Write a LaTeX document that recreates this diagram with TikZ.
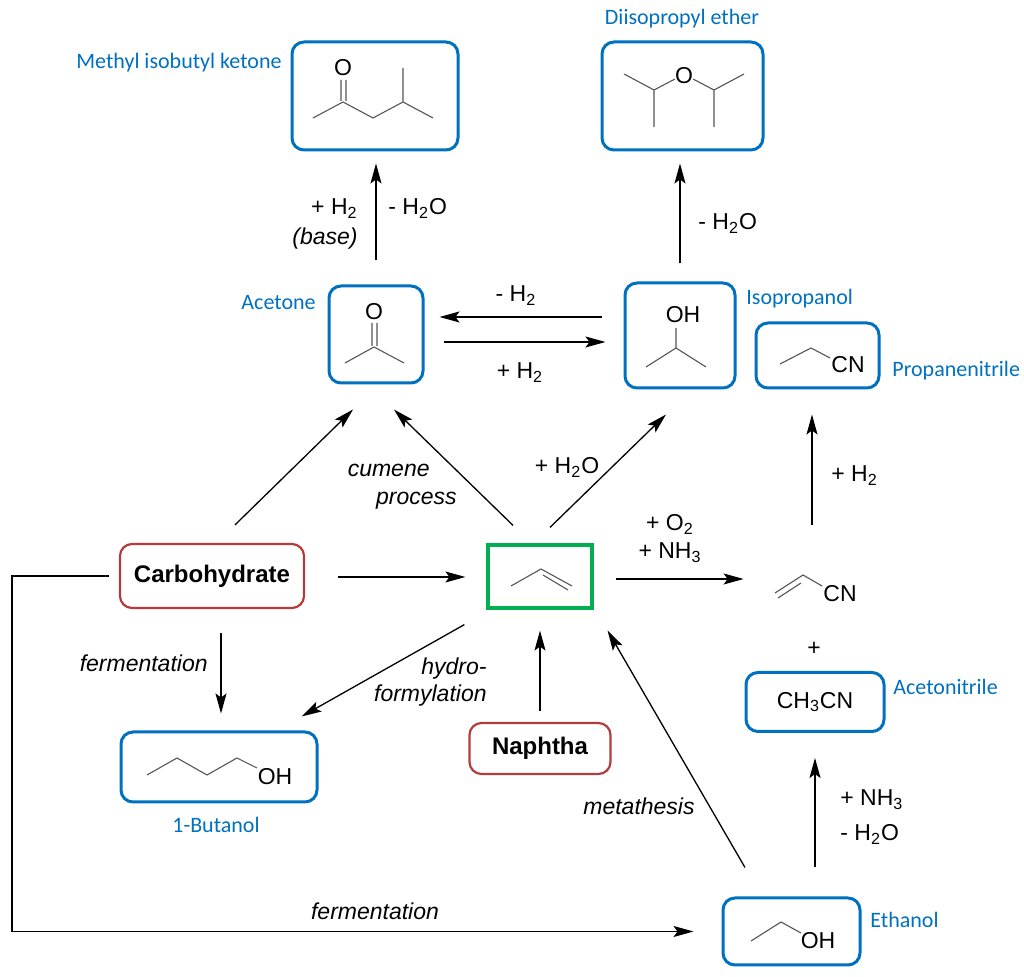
\documentclass[tikz,border=0pt]{standalone}
\usepackage{fontspec}
\setmainfont{Liberation Sans}
\newfontfamily\calibri{Carlito}
\usetikzlibrary{arrows.meta}
\definecolor{molblue}{RGB}{0,112,192}
\definecolor{feedred}{RGB}{178,60,60}
\definecolor{propgreen}{RGB}{0,176,80}
\definecolor{bondgray}{RGB}{85,85,85}
\begin{document}
\begin{tikzpicture}[x=0.5pt,y=-0.5pt,>={Stealth[length=10pt,width=5.5pt,inset=2pt]},
	arr/.style={->,line width=0.65pt},
	bond/.style={bondgray,line width=0.55pt},
	bluebox/.style={draw=molblue,line width=1.5pt,rounded corners=6pt,inner sep=0pt,font=\fontsize{11.5}{13}\selectfont},
	redbox/.style={draw=feedred,line width=1.1pt,rounded corners=6pt,inner sep=0pt,font=\fontsize{12}{14}\selectfont\bfseries},
	greenbox/.style={draw=propgreen,line width=1.6pt,inner sep=0pt},
	txt/.style={inner sep=0pt,font=\fontsize{11.5}{13}\selectfont},
	itxt/.style={inner sep=0pt,font=\fontsize{11.5}{13}\selectfont\itshape},
	cname/.style={inner sep=0pt,text=molblue,font=\fontsize{11}{13}\selectfont\calibri}]
	\useasboundingbox (0,0) rectangle (1024,977);
	% boxes
	\node[bluebox,minimum width=83pt,minimum height=54pt] (mibk) at (375,96) {};
	\node[bluebox,minimum width=80.5pt,minimum height=54pt] (dipe) at (682.5,96) {};
	\node[bluebox,minimum width=47pt,minimum height=48.5pt] (acetone) at (376,334.5) {};
	\node[bluebox,minimum width=55pt,minimum height=52.5pt] (isoprop) at (680,335.5) {};
	\node[bluebox,minimum width=61.5pt,minimum height=32.5pt] (propnitrile) at (817.5,355.5) {};
	\node[redbox,minimum width=92pt,minimum height=32pt] (carbo) at (212,576) {Carbohydrate};
	\node[greenbox,minimum width=52pt,minimum height=31.5pt] (propene) at (540,576.5) {};
	\node[bluebox,minimum width=98pt,minimum height=35pt] (butanol) at (219,767) {};
	\node[redbox,minimum width=70.5pt,minimum height=25.5pt] (naphtha) at (540,748.5) {Naphtha};
	\node[bluebox,minimum width=69pt,minimum height=29.5pt] (acetonitrile) at (815,702) {CH\textsubscript{3}CN};
	\node[bluebox,minimum width=68.5pt,minimum height=33.5pt] (ethanol) at (791.5,931.5) {};
	\node[inner sep=0pt,minimum width=38pt,minimum height=17pt] (acryl) at (812,586) {};
	% names
	\node[cname,anchor=base east] (mibkname) at (282,69) {Methyl isobutyl ketone};
	\node[cname,anchor=base east] (acetonename) at (316,310) {Acetone};
	\node[cname,anchor=base] (dipename) at (682,25) {Diisopropyl ether};
	\node[cname,anchor=base west] (isopropname) at (746,305) {Isopropanol};
	\node[cname,anchor=base west] (propnitrilename) at (892,377) {Propanenitrile};
	\node[cname,anchor=base] (butanolname) at (216,833) {1-Butanol};
	\node[cname,anchor=base west] (acetonitrilename) at (893,695) {Acetonitrile};
	\node[cname,anchor=base west] (ethanolname) at (870,928) {Ethanol};
	% molecules
	\draw[bond] (313,118)--(343,102)--(373,118)--(403,102)--(433,118) (403,102)--(403,68) (341,101)--(341,80) (346,101)--(346,80);
	\node[txt] (mibkO) at (343,68) {O};
	\draw[bond] (345,363)--(374,347)--(404,363) (372,346)--(372,323) (377,346)--(377,323);
	\node[txt] (acetoneO) at (374,312) {O};
	\draw[bond] (624,74)--(654,90)--(654,127) (654,90)--(675,79) (693,79)--(714,90)--(714,127) (714,90)--(744,74);
	\node[txt] (dipeO) at (684,76) {O};
	\draw[bond] (676,328)--(676,348) (646,367)--(676,348)--(706,367);
	\node[txt] (isopropOH) at (683,315) {OH};
	\draw[bond] (780,364)--(811,348)--(830,358);
	\node[txt] (propnitrileCN) at (848,365) {CN};
	\draw[bond] (511,586)--(541,569)--(572,586) (543,575)--(568,590);
	\draw[bond] (775,593)--(803,575)--(822,586) (778,598)--(801,583);
	\node[txt] (acrylCN) at (840,594) {CN};
	\draw[bond] (147,775)--(177,758)--(207,775)--(237,758)--(257,768);
	\node[txt] (butanolOH) at (275,777) {OH};
	\draw[bond] (751,941)--(781,922)--(801,933);
	\node[txt] (ethanolOH) at (818,941) {OH};
	% arrows
	\draw[arr,shorten <=12pt,shorten >=6pt] (acetone.north) -- (acetone.north |- mibk.south);
	\draw[arr,shorten <=9pt,shorten >=6pt] (isoprop.north) -- (isoprop.north |- dipe.south);
	\draw[arr,shorten <=11pt,shorten >=7.5pt] ([yshift=9.25pt]isoprop.west) -- ([yshift=8.75pt]acetone.east);
	\draw[arr,shorten <=9.5pt,shorten >=9pt] ([yshift=-3.75pt]acetone.east) -- ([yshift=-3.25pt]isoprop.west);
	\draw[arr,shorten <=16.5pt,shorten >=10.5pt] ([yshift=-0.5pt]carbo.east) -- ([yshift=-0.25pt]propene.west);
	\draw[arr] ([xshift=11.5pt,yshift=9pt]carbo.north) -- ([xshift=-11.5pt,yshift=-12.5pt]acetone.south);
	\draw[arr] ([xshift=-13.5pt,yshift=9pt]propene.north) -- ([xshift=9pt,yshift=-12.5pt]acetone.south);
	\draw[arr] ([xshift=5pt,yshift=8pt]propene.north) -- ([xshift=-7pt,yshift=-12.5pt]isoprop.south);
	\draw[arr,shorten <=11pt,shorten >=15pt] ([yshift=-1.25pt]propene.east) -- ([yshift=3.5pt]acryl.west);
	\draw[arr,shorten <=22pt,shorten >=12.5pt] (acryl.north) -- (acryl.north |- propnitrile.south);
	\draw[arr,shorten <=14.5pt,shorten >=12.5pt] (acetonitrile.south |- ethanol.north) -- (acetonitrile.south);
	\draw[arr,shorten <=5.5pt,shorten >=10.5pt] (naphtha.north) -- (propene.south);
	\draw[arr] ([xshift=-23.25pt,yshift=14.5pt]ethanol.north) -- ([xshift=7pt,yshift=-10.5pt]propene.south east);
	\draw[arr,shorten <=12pt,shorten >=8.5pt] ([xshift=4.5pt]carbo.south) -- ([xshift=4.5pt]carbo.south |- butanol.north);
	\draw[arr] ([xshift=-11pt,yshift=-7.5pt]propene.south west) -- ([xshift=-8.5pt,yshift=7pt]butanol.north east);
	\draw[arr] ([xshift=-5pt]carbo.west) -- ++(-97,0) |- ([xshift=-14pt]ethanol.west);
	% conditions
	\node[txt,anchor=base east] (mibkH) at (358,215) {+ H\textsubscript{2}};
	\node[itxt,anchor=base east] (mibkbase) at (358,245) {(base)};
	\node[txt,anchor=base west] (mibkW) at (388,215) {- H\textsubscript{2}O};
	\node[txt,anchor=base west] (dipeW) at (698,230) {- H\textsubscript{2}O};
	\node[txt,anchor=base] (dehydro) at (516,302) {- H\textsubscript{2}};
	\node[txt,anchor=base] (hydro) at (520,379) {+ H\textsubscript{2}};
	\node[itxt,anchor=base east] (cumene) at (430,477) {cumene};
	\node[itxt,anchor=base east] (process) at (457,505) {process};
	\node[txt,anchor=base] (hydrat) at (567,474) {+ H\textsubscript{2}O};
	\node[txt,anchor=base] (ammoxO) at (670,531) {+ O\textsubscript{2}};
	\node[txt,anchor=base] (ammoxN) at (670,559) {+ NH\textsubscript{3}};
	\node[txt,anchor=base west] (nitrileH) at (831,482) {+ H\textsubscript{2}};
	\node[txt] (plus) at (814,649) {+};
	\node[txt,anchor=base west] (ethN) at (840,806) {+ NH\textsubscript{3}};
	\node[txt,anchor=base west] (ethW) at (840,841) {- H\textsubscript{2}O};
	\node[itxt,anchor=base east] (metathesis) at (695,815) {metathesis};
	\node[itxt,anchor=base east] (fermleft) at (208,672) {fermentation};
	\node[itxt,anchor=base east] (hydroform) at (487,675) {hydro-};
	\node[itxt,anchor=base east] (formyl) at (487,702) {formylation};
	\node[itxt,anchor=base] (fermbottom) at (375,920) {fermentation};
\end{tikzpicture}
\end{document}
